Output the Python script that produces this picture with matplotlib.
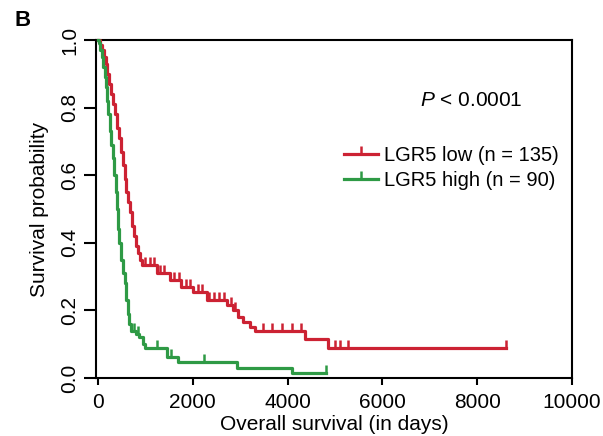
import matplotlib
matplotlib.use("Agg")
import matplotlib.pyplot as plt
import numpy as np
from matplotlib.lines import Line2D

plt.rcParams['font.family'] = ['Liberation Sans', 'DejaVu Sans']
plt.rcParams['mathtext.fontset'] = 'custom'
plt.rcParams['mathtext.it'] = 'Liberation Sans:italic'
plt.rcParams['mathtext.rm'] = 'Liberation Sans'

# Kaplan-Meier steps (time in days, survival after the step)
low_time = [0, 40, 80, 120, 160, 200, 240, 280, 320, 360, 400, 440, 480, 520, 560,
            600, 640, 680, 720, 760, 800, 840, 880, 930, 1240, 1520, 1750, 2000,
            2300, 2720, 2850, 2950, 3050, 3200, 3310, 4370, 4850, 8600]
low_surv = [1.0, 0.985, 0.97, 0.95, 0.93, 0.90, 0.87, 0.84, 0.81, 0.78, 0.74, 0.71,
            0.67, 0.63, 0.59, 0.55, 0.52, 0.49, 0.45, 0.42, 0.39, 0.37, 0.35, 0.335,
            0.31, 0.29, 0.27, 0.255, 0.23, 0.215, 0.20, 0.18, 0.165, 0.15, 0.14,
            0.115, 0.09, 0.09]
low_censor = [1000, 1100, 1180, 1300, 1400, 1600, 1700, 1850, 1950, 2100, 2200, 2350,
              2450, 2550, 2650, 2800, 2900, 3480, 3670, 3880, 4090, 4280, 5000,
              5110, 5270, 8600]

high_time = [0, 20, 50, 80, 110, 140, 170, 190, 220, 250, 280, 310, 340, 370, 400,
             420, 450, 490, 530, 570, 600, 630, 660, 700, 800, 870, 950, 1000, 1450,
             1690, 2930, 4100, 4800]
high_surv = [1.0, 0.99, 0.97, 0.95, 0.92, 0.89, 0.86, 0.82, 0.78, 0.73, 0.69, 0.65,
             0.60, 0.55, 0.50, 0.44, 0.40, 0.35, 0.31, 0.28, 0.23, 0.19, 0.16, 0.14,
             0.13, 0.12, 0.10, 0.088, 0.063, 0.048, 0.030, 0.014, 0.014]
high_censor = [750, 850, 1250, 1550, 2240, 4800]

labels = ['LGR5 low (n = 135)', 'LGR5 high (n = 90)']
colors = ['#CC2233', '#2E9A45']


def surv_at(times, surv, t):
    idx = np.searchsorted(times, t, side='right') - 1
    return np.array(surv)[idx]


fig = plt.figure(figsize=(6.03, 4.36), dpi=100)
ax = fig.add_axes([96 / 603, 58 / 436, 476 / 603, 338 / 436])

for t, s, c, col in [(low_time, low_surv, low_censor, colors[0]),
                     (high_time, high_surv, high_censor, colors[1])]:
    ax.step(t, s, where='post', color=col, lw=2.3, clip_on=False, zorder=3)
    ax.plot(c, surv_at(t, s, c), ls='none', marker=2, ms=6, mew=1.8,
            color=col, clip_on=False, zorder=3)

ax.set_xlim(-42, 10000)
ax.set_ylim(0, 1)
ax.set_xticks([0, 2000, 4000, 6000, 8000, 10000])
ax.set_yticks([0, 0.2, 0.4, 0.6, 0.8, 1.0])
ax.set_yticklabels(['0.0', '0.2', '0.4', '0.6', '0.8', '1.0'], rotation=90, va='center')
ax.tick_params(axis='x', length=5, width=1.5, labelsize=15, pad=6)
ax.tick_params(axis='y', length=9, width=1.5, labelsize=15, pad=3)
for sp in ax.spines.values():
    sp.set_linewidth(1.5)

ax.set_xlabel('Overall survival (in days)', fontsize=15, labelpad=2)
ax.set_ylabel('Survival probability', fontsize=15, labelpad=8)

ax.text(0.68, 0.822, r'$P$ < 0.0001', transform=ax.transAxes, fontsize=15,
        ha='left', va='center')

handles = [Line2D([0], [0], color=col, lw=2.3, marker=2, ms=6, mew=1.8)
           for col in colors]
ax.legend(handles, labels, loc='center left', bbox_to_anchor=(0.50, 0.62),
          frameon=False, fontsize=14.5, handlelength=1.7, handletextpad=0.3,
          borderpad=0, labelspacing=0.3, numpoints=1)

fig.text(15 / 603, 1 - 20 / 436, 'B', fontsize=16, fontweight='bold',
         ha='left', va='center')

fig.savefig('out.png', dpi=100)
